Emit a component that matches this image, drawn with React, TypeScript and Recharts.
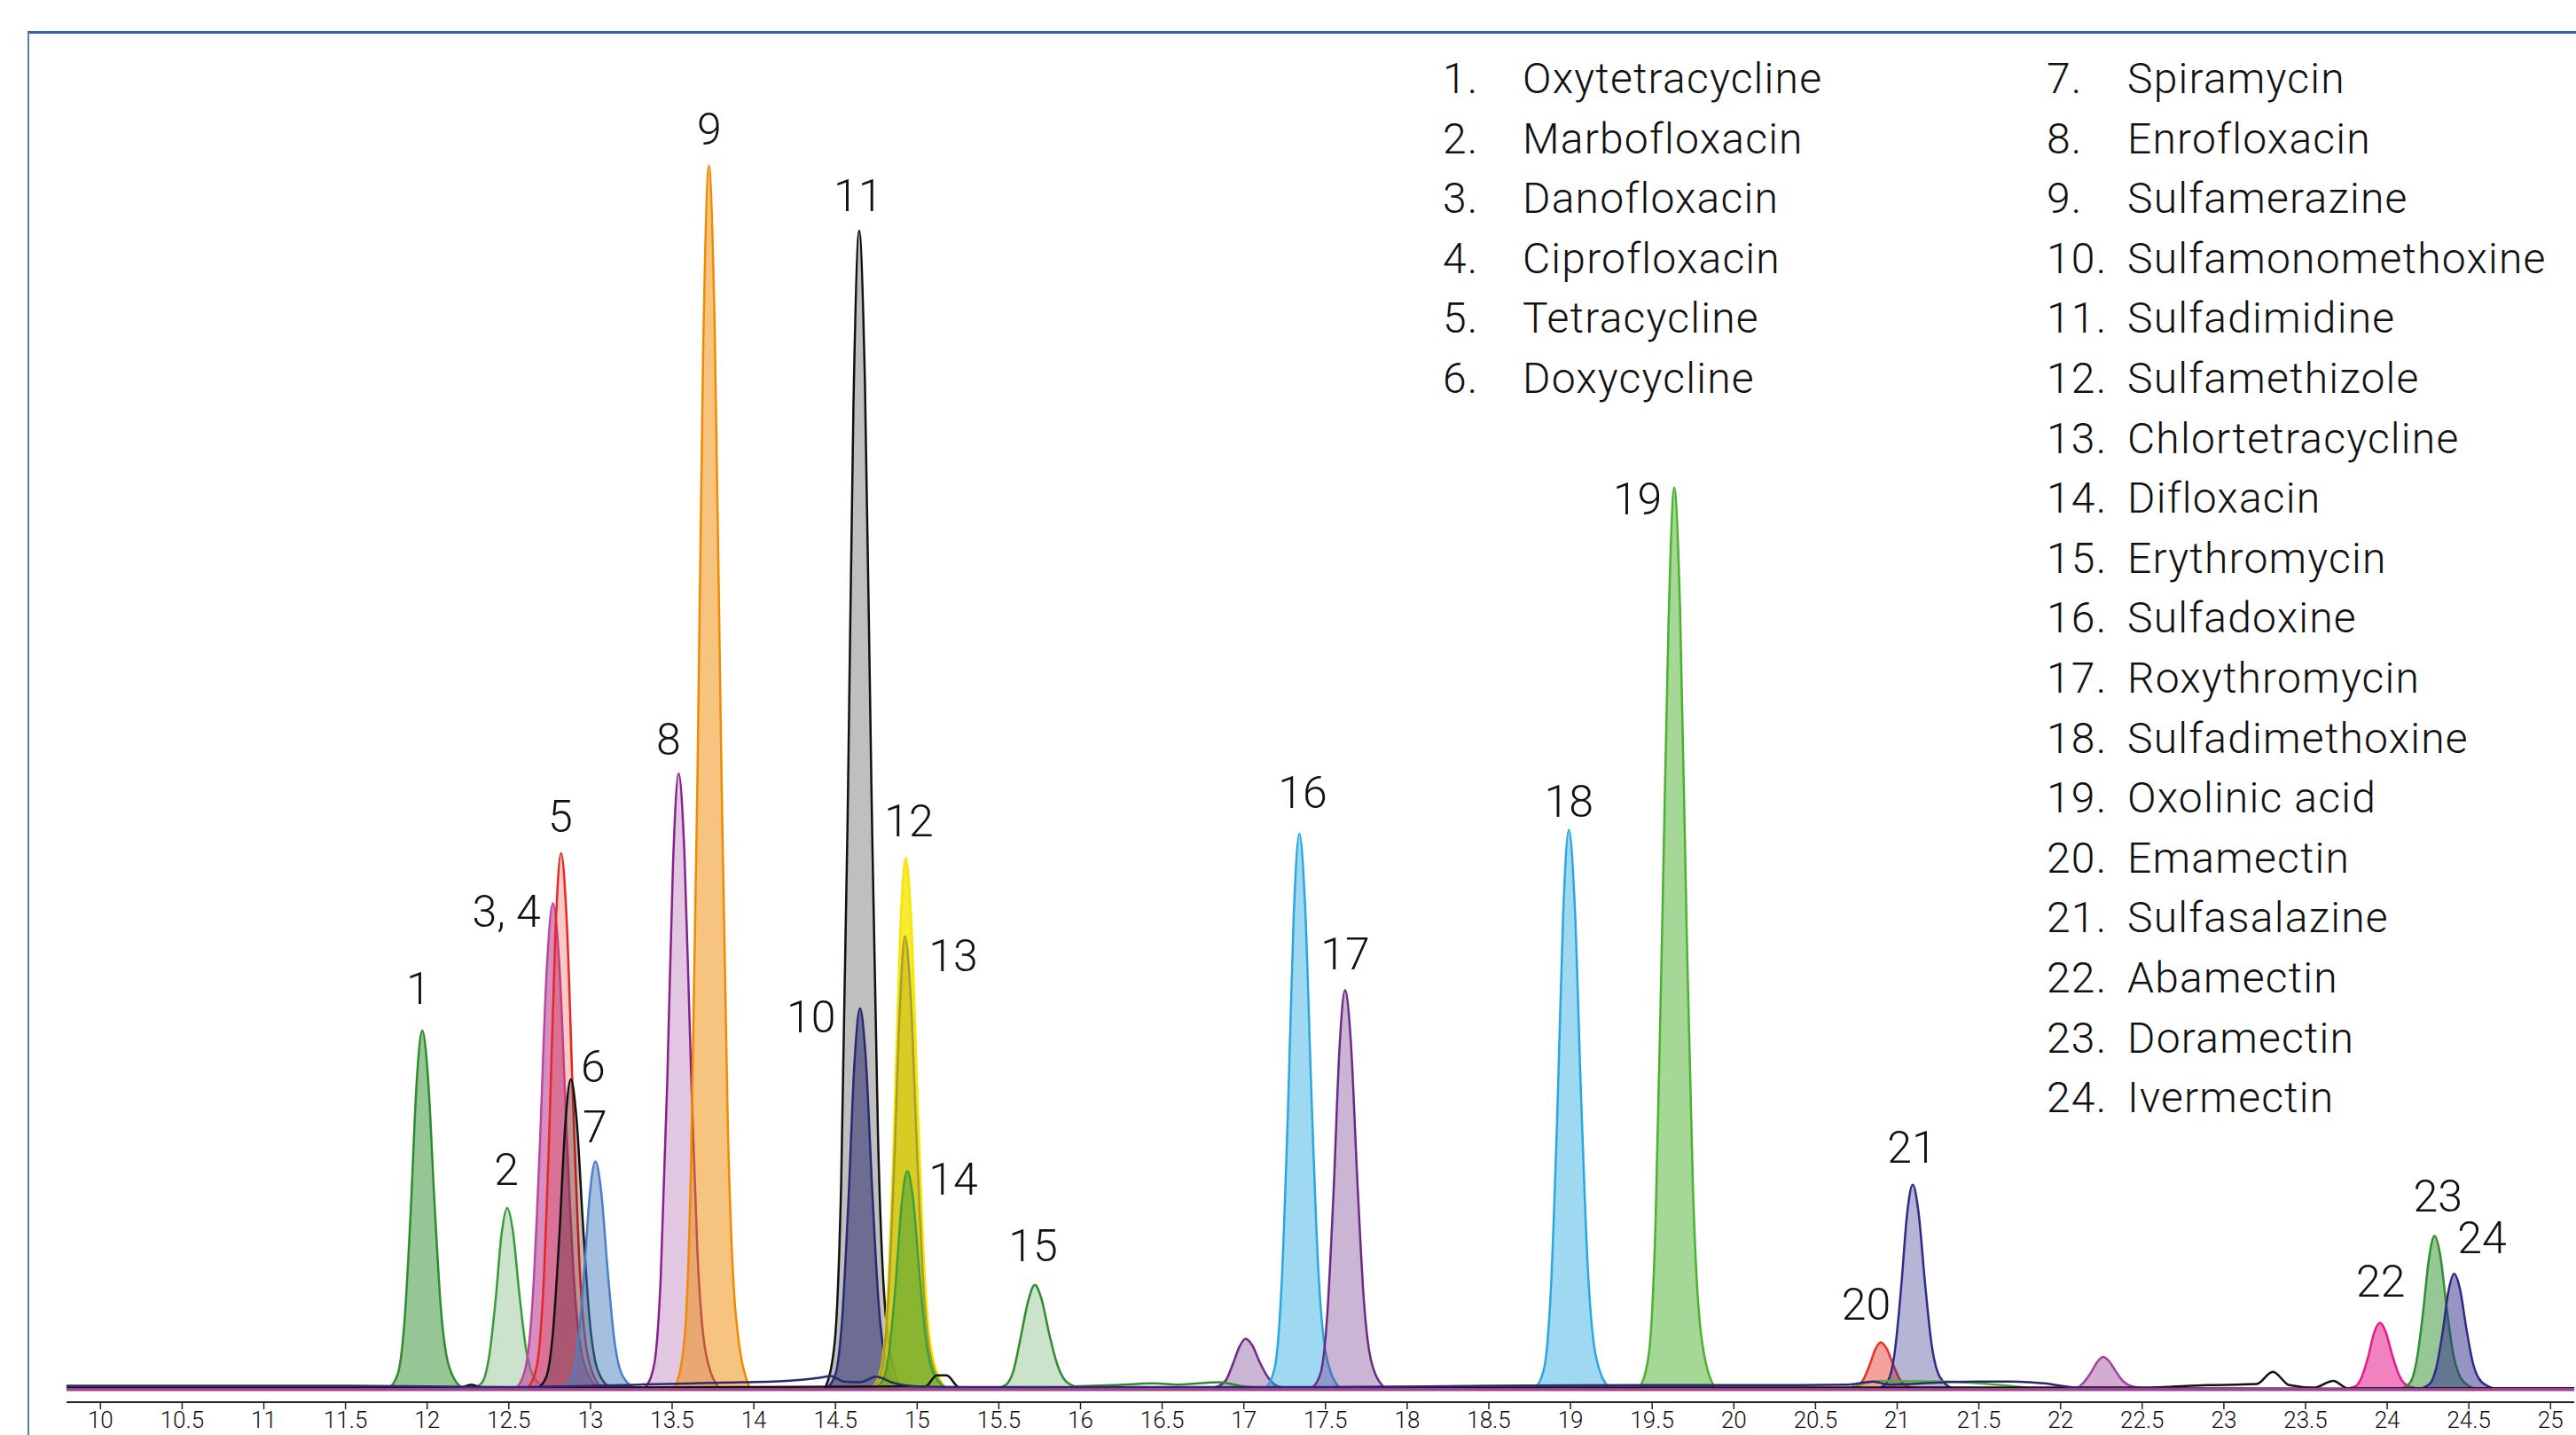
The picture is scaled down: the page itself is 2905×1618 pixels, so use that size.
import React from 'react';
import { ComposedChart, Area, Line, Scatter, XAxis, YAxis } from 'recharts';

type Pt = [number, number];

// retention time (min) ticks
const timeTicks = [10, 10.5, 11, 11.5, 12, 12.5, 13, 13.5, 14, 14.5, 15, 15.5, 16, 16.5, 17, 17.5, 18, 18.5, 19, 19.5, 20, 20.5, 21, 21.5, 22, 22.5, 23, 23.5, 24, 24.5, 25];

// peak outlines: [time, response]
const peak01: Pt[] = [[11.76, 0], [11.82, 1.2], [11.86, 5.3], [11.9, 14.7], [11.935, 24.9], [11.97, 29.3], [12.005, 25.5], [12.045, 15.2], [12.085, 6.4], [12.135, 1.8], [12.22, 0]];
const peak02: Pt[] = [[12.28, 0], [12.34, 0.6], [12.38, 2.7], [12.42, 7.4], [12.455, 12.6], [12.49, 14.8], [12.525, 12.9], [12.565, 7.7], [12.605, 3.3], [12.655, 0.9], [12.74, 0]];
const peak0304: Pt[] = [[12.54, 0], [12.6, 1.6], [12.645, 7.1], [12.69, 19.9], [12.73, 33.7], [12.77, 39.7], [12.81, 34.5], [12.855, 20.6], [12.9, 8.7], [12.955, 2.4], [13.05, 0]];
const peak05: Pt[] = [[12.61, 0], [12.67, 1.8], [12.71, 7.9], [12.75, 21.9], [12.785, 37.2], [12.82, 43.8], [12.855, 38.1], [12.895, 22.8], [12.935, 9.6], [12.985, 2.6], [13.07, 0]];
const peak06: Pt[] = [[12.67, 0], [12.73, 1.0], [12.77, 4.6], [12.81, 12.7], [12.845, 21.5], [12.88, 25.3], [12.915, 22.0], [12.955, 13.2], [12.995, 5.6], [13.045, 1.5], [13.13, 0]];
const peak07: Pt[] = [[12.82, 0], [12.88, 0.7], [12.92, 3.3], [12.96, 9.3], [12.995, 15.8], [13.03, 18.6], [13.065, 16.2], [13.105, 9.7], [13.145, 4.1], [13.195, 1.1], [13.28, 0]];
const peak08: Pt[] = [[13.33, 0], [13.39, 2.0], [13.43, 9.1], [13.47, 25.2], [13.505, 42.8], [13.54, 50.3], [13.575, 43.8], [13.615, 26.2], [13.655, 11.1], [13.705, 3.0], [13.79, 0]];
const peak09: Pt[] = [[13.515, 0], [13.575, 4], [13.615, 18], [13.655, 50], [13.69, 85], [13.725, 100], [13.76, 87], [13.8, 52], [13.84, 22], [13.89, 6], [13.975, 0]];
const peak10: Pt[] = [[14.44, 0], [14.5, 1.2], [14.54, 5.6], [14.58, 15.6], [14.615, 26.4], [14.65, 31.1], [14.685, 27.1], [14.725, 16.2], [14.765, 6.8], [14.815, 1.9], [14.9, 0]];
const peak11: Pt[] = [[14.435, 0], [14.495, 3.8], [14.535, 17.0], [14.575, 47.4], [14.61, 80.5], [14.645, 94.7], [14.68, 82.4], [14.72, 49.2], [14.76, 20.8], [14.81, 5.7], [14.895, 0]];
const peak12: Pt[] = [[14.72, 0], [14.78, 1.7], [14.82, 7.8], [14.86, 21.7], [14.895, 36.9], [14.93, 43.4], [14.965, 37.8], [15.005, 22.6], [15.045, 9.5], [15.095, 2.6], [15.18, 0]];
const peak13: Pt[] = [[14.72, 0], [14.78, 1.5], [14.82, 6.7], [14.86, 18.5], [14.895, 31.5], [14.925, 37.0], [14.96, 32.2], [15.0, 19.2], [15.04, 8.1], [15.09, 2.2], [15.175, 0]];
const peak14: Pt[] = [[14.73, 0], [14.79, 0.7], [14.83, 3.2], [14.87, 8.9], [14.905, 15.1], [14.94, 17.8], [14.975, 15.5], [15.015, 9.3], [15.055, 3.9], [15.105, 1.1], [15.19, 0]];
const peak15: Pt[] = [[15.47, 0], [15.54, 0.3], [15.59, 1.5], [15.635, 4.3], [15.68, 7.2], [15.72, 8.5], [15.76, 7.4], [15.81, 4.4], [15.86, 1.9], [15.92, 0.5], [16.02, 0]];
const minor17: Pt[] = [[16.77, 0], [16.84, 0.2], [16.89, 0.7], [16.935, 2.1], [16.975, 3.5], [17.01, 4.1], [17.05, 3.6], [17.1, 2.1], [17.15, 0.9], [17.21, 0.2], [17.31, 0]];
const peak16: Pt[] = [[17.13, 0], [17.19, 1.8], [17.23, 8.2], [17.27, 22.7], [17.305, 38.6], [17.34, 45.4], [17.375, 39.5], [17.415, 23.6], [17.455, 10.0], [17.505, 2.7], [17.59, 0]];
const peak17: Pt[] = [[17.41, 0], [17.47, 1.3], [17.51, 5.9], [17.55, 16.3], [17.585, 27.7], [17.62, 32.6], [17.655, 28.4], [17.695, 17.0], [17.735, 7.2], [17.785, 2.0], [17.87, 0]];
const peak18: Pt[] = [[18.78, 0], [18.84, 1.8], [18.88, 8.2], [18.92, 22.9], [18.955, 38.8], [18.99, 45.7], [19.025, 39.8], [19.065, 23.8], [19.105, 10.1], [19.155, 2.7], [19.24, 0]];
const peak19: Pt[] = [[19.42, 0], [19.48, 2.9], [19.52, 13.3], [19.56, 36.9], [19.6, 62.6], [19.635, 73.7], [19.67, 64.1], [19.71, 38.3], [19.75, 16.2], [19.8, 4.4], [19.885, 0]];
const peak20: Pt[] = [[20.69, 0], [20.75, 0.15], [20.79, 0.7], [20.83, 1.9], [20.865, 3.2], [20.9, 3.8], [20.935, 3.3], [20.975, 2.0], [21.015, 0.8], [21.065, 0.2], [21.15, 0]];
const peak21: Pt[] = [[20.885, 0], [20.945, 0.7], [20.985, 3.0], [21.025, 8.4], [21.06, 14.2], [21.095, 16.7], [21.13, 14.5], [21.17, 8.7], [21.21, 3.7], [21.26, 1.0], [21.345, 0]];
const minor22: Pt[] = [[22.03, 0], [22.1, 0.1], [22.14, 0.5], [22.185, 1.3], [22.225, 2.2], [22.26, 2.6], [22.295, 2.3], [22.34, 1.4], [22.385, 0.6], [22.44, 0.2], [22.53, 0]];
const peak22: Pt[] = [[23.745, 0], [23.805, 0.2], [23.845, 1.0], [23.885, 2.7], [23.92, 4.6], [23.955, 5.4], [23.99, 4.7], [24.03, 2.8], [24.07, 1.2], [24.12, 0.3], [24.205, 0]];
const peak23: Pt[] = [[24.08, 0], [24.14, 0.5], [24.18, 2.3], [24.22, 6.3], [24.255, 10.6], [24.29, 12.5], [24.325, 10.9], [24.365, 6.5], [24.405, 2.8], [24.455, 0.8], [24.54, 0]];
const peak24: Pt[] = [[24.2, 0], [24.26, 0.4], [24.3, 1.7], [24.34, 4.7], [24.375, 8.0], [24.41, 9.4], [24.445, 8.2], [24.485, 4.9], [24.525, 2.1], [24.575, 0.6], [24.66, 0]];

// baseline traces
const baseMagenta: Pt[] = [[9.792, -0.05], [25.145, -0.05]];
const baseNavy: Pt[] = [[9.792, 0.25], [11.5, 0.25], [12.5, 0.15], [13.3, 0.35], [13.8, 0.5], [14.2, 0.65], [14.4, 0.9], [14.47, 1.05], [14.55, 0.6], [14.65, 0.55], [14.75, 1.0], [14.85, 0.5], [15.0, 0.2], [15.3, 0.15], [17.5, 0.15], [18.5, 0.25], [19.5, 0.3], [20.3, 0.3], [20.7, 0.35], [20.85, 0.6], [20.95, 0.35], [21.3, 0.55], [21.5, 0.6], [21.7, 0.6], [21.9, 0.45], [22.1, 0.1], [22.5, 0.05], [25.145, 0]];
const baseBlack: Pt[] = [[9.792, 0.1], [12.2, 0.1], [12.27, 0.35], [12.34, 0.1], [15.05, 0.2], [15.12, 1.1], [15.18, 1.1], [15.26, 0.1], [22.5, 0.1], [22.9, 0.3], [23.2, 0.4], [23.3, 1.4], [23.4, 0.3], [23.55, 0.1], [23.67, 0.65], [23.76, 0.05], [25.145, 0.05]];
const baseGreenA: Pt[] = [[15.95, 0.2], [16.2, 0.3], [16.45, 0.45], [16.6, 0.35], [16.85, 0.55], [17.0, 0.2], [17.2, 0.05]];
const baseGreenB: Pt[] = [[20.7, 0.05], [20.9, 0.65], [21.3, 0.6], [21.8, 0.1]];

// peak number labels: [time, response]
const labelText = ['1', '2', '3, 4', '5', '6', '7', '8', '9', '10', '11', '12', '13', '14', '15', '16', '17', '18', '19', '20', '21', '22', '23', '24'];
const labelPos: Pt[] = [[11.946, 32.7], [12.485, 17.9], [12.485, 39.0], [12.815, 46.8], [13.016, 26.3], [13.027, 21.4], [13.478, 53.1], [13.727, 103.0], [14.351, 30.4], [14.639, 97.5], [14.949, 46.4], [15.221, 35.4], [15.221, 17.1], [15.71, 11.7], [17.36, 48.7], [17.62, 35.5], [18.99, 48.0], [19.41, 72.7], [20.81, 6.9], [21.09, 19.7], [23.96, 8.8], [24.31, 15.7], [24.58, 12.3]];

const compoundsLeft = ['Oxytetracycline', 'Marbofloxacin', 'Danofloxacin', 'Ciprofloxacin', 'Tetracycline', 'Doxycycline'];
const compoundsRight = ['Spiramycin', 'Enrofloxacin', 'Sulfamerazine', 'Sulfamonomethoxine', 'Sulfadimidine', 'Sulfamethizole', 'Chlortetracycline', 'Difloxacin', 'Erythromycin', 'Sulfadoxine', 'Roxythromycin', 'Sulfadimethoxine', 'Oxolinic acid', 'Emamectin', 'Sulfasalazine', 'Abamectin', 'Doramectin', 'Ivermectin'];

const rows = (pts: Pt[]) => pts.map(([t, v]) => ({ t, v }));

// draw order matters: later peaks sit on top
const PEAKS: { data: Pt[]; stroke: string; fill: string; op: number }[] = [
  { data: peak01, stroke: '#2e8b2e', fill: '#2e8b2e', op: 0.5 },
  { data: peak02, stroke: '#3a9a3a', fill: '#2e8b2e', op: 0.25 },
  { data: peak0304, stroke: '#b8489e', fill: '#c0509f', op: 0.65 },
  { data: peak05, stroke: '#e8251f', fill: '#e8251f', op: 0.25 },
  { data: peak06, stroke: '#111111', fill: '#3a1a1a', op: 0.3 },
  { data: peak07, stroke: '#4a7fc1', fill: '#4a7fc1', op: 0.5 },
  { data: peak08, stroke: '#8b1f8b', fill: '#8b1f8b', op: 0.25 },
  { data: peak09, stroke: '#f08a00', fill: '#f08a00', op: 0.5 },
  { data: peak11, stroke: '#111111', fill: '#000000', op: 0.25 },
  { data: peak10, stroke: '#2a2870', fill: '#2a2870', op: 0.55 },
  { data: peak12, stroke: '#f5e600', fill: '#f5e600', op: 0.8 },
  { data: peak13, stroke: '#a89c30', fill: '#a89c10', op: 0.4 },
  { data: peak14, stroke: '#3ca03c', fill: '#3ca03c', op: 0.5 },
  { data: peak15, stroke: '#2e8b2e', fill: '#2e8b2e', op: 0.25 },
  { data: minor17, stroke: '#6b2a86', fill: '#6b2a86', op: 0.35 },
  { data: peak16, stroke: '#29a8e0', fill: '#29a8e0', op: 0.45 },
  { data: peak17, stroke: '#6b2a86', fill: '#6b2a86', op: 0.35 },
  { data: peak18, stroke: '#29a8e0', fill: '#29a8e0', op: 0.45 },
  { data: peak19, stroke: '#4cb030', fill: '#4cb030', op: 0.5 },
  { data: peak20, stroke: '#e8302a', fill: '#e8302a', op: 0.45 },
  { data: peak21, stroke: '#2e2a88', fill: '#2e2a88', op: 0.35 },
  { data: minor22, stroke: '#a0479a', fill: '#a0479a', op: 0.45 },
  { data: peak22, stroke: '#e8198a', fill: '#e8198a', op: 0.55 },
  { data: peak23, stroke: '#2f8f2f', fill: '#2f8f2f', op: 0.5 },
  { data: peak24, stroke: '#2e2a88', fill: '#2e2a88', op: 0.5 },
];

const FONT = 'Roboto, "Helvetica Neue", Arial, sans-serif';

function TimeTick({ x, y, payload }: any) {
  return (
    <text x={x} y={y + 19} textAnchor="middle" fontSize={26} fontWeight={300} fontFamily={FONT} fill="#111">
      {payload.value}
    </text>
  );
}

function PeakLabel(p: any) {
  return (
    <text x={p.cx} y={p.cy} textAnchor="middle" dominantBaseline="central" fontSize={50} fontWeight={300} fontFamily={FONT} fill="#111">
      {p.payload.label}
    </text>
  );
}

export default function App() {
  const labels = labelPos.map(([t, v], i) => ({ t, v, label: labelText[i] }));
  const rowY = (i: number) => 105 + i * 67.6;
  return (
    <div style={{ position: 'absolute', left: 0, top: 0, width: 2905, height: 1618, background: '#fff', overflow: 'hidden' }}>
      <div style={{ position: 'absolute', left: 31, top: 35, right: 0, bottom: -10, borderTop: '3px solid #3562a8', borderLeft: '2px solid #5a7db3' }} />
      <div style={{ position: 'absolute', left: 0, top: 0 }}>
        <ComposedChart width={2905} height={1618} margin={{ top: 40, right: 2, bottom: 0, left: 75 }}>
          <XAxis
            dataKey="t"
            type="number"
            domain={[9.792, 25.145]}
            ticks={timeTicks}
            allowDataOverflow
            height={37}
            tickSize={8}
            tick={<TimeTick />}
            axisLine={{ stroke: '#222', strokeWidth: 2 }}
            tickLine={{ stroke: '#222', strokeWidth: 1.5 }}
            interval={0}
          />
          <YAxis type="number" domain={[-1.09, 110.66]} allowDataOverflow hide />
          <Line data={rows(baseGreenA)} dataKey="v" type="monotone" stroke="#2e8b2e" strokeWidth={2.5} dot={false} activeDot={false} isAnimationActive={false} />
          <Line data={rows(baseGreenB)} dataKey="v" type="monotone" stroke="#4cb030" strokeWidth={2.5} dot={false} activeDot={false} isAnimationActive={false} />
          {PEAKS.map((p, i) => (
            <Area
              key={i}
              data={rows(p.data)}
              dataKey="v"
              type="monotone"
              stroke={p.stroke}
              strokeWidth={2.5}
              fill={p.fill}
              fillOpacity={p.op}
              dot={false}
              activeDot={false}
              isAnimationActive={false}
            />
          ))}
          <Line data={rows(baseBlack)} dataKey="v" type="monotone" stroke="#111" strokeWidth={2.5} dot={false} activeDot={false} isAnimationActive={false} />
          <Line data={rows(baseNavy)} dataKey="v" type="monotone" stroke="#2a2870" strokeWidth={2.5} dot={false} activeDot={false} isAnimationActive={false} />
          <Line data={rows(baseMagenta)} dataKey="v" type="linear" stroke="#a3408f" strokeWidth={3.5} dot={false} activeDot={false} isAnimationActive={false} />
          <Scatter data={labels} dataKey="v" shape={PeakLabel} isAnimationActive={false} />
        </ComposedChart>
      </div>
      <svg width={2905} height={1618} style={{ position: 'absolute', left: 0, top: 0, pointerEvents: 'none' }}>
        <g fontFamily={FONT} fontWeight={300} fontSize={48} fill="#111" letterSpacing={1.2}>
          {compoundsLeft.map((name, i) => (
            <g key={name}>
              <text x={1627} y={rowY(i)}>{`${i + 1}.`}</text>
              <text x={1717} y={rowY(i)}>{name}</text>
            </g>
          ))}
          {compoundsRight.map((name, i) => (
            <g key={name}>
              <text x={2308} y={rowY(i)}>{`${i + 7}.`}</text>
              <text x={2399} y={rowY(i)}>{name}</text>
            </g>
          ))}
        </g>
      </svg>
    </div>
  );
}
